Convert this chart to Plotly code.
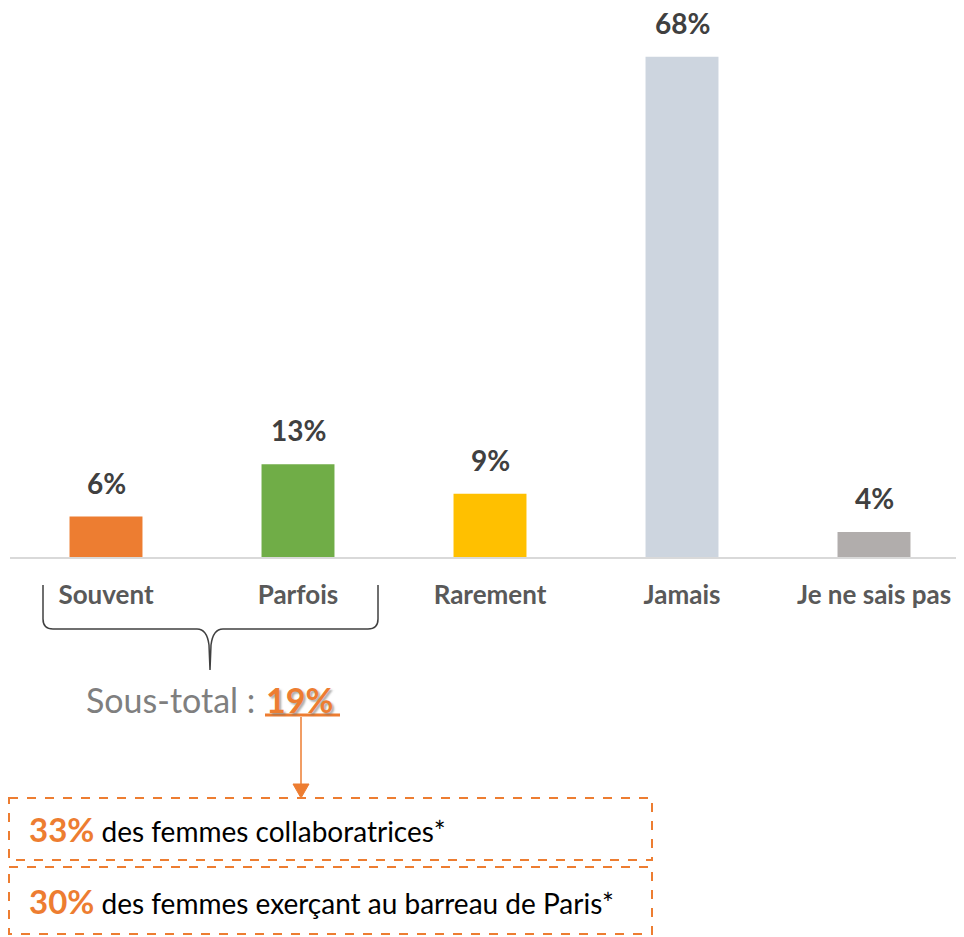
import plotly.graph_objects as go

categories = ["Souvent", "Parfois", "Rarement", "Jamais", "Je ne sais pas"]
values = [5.5, 12.6, 8.6, 68.0, 3.4]
value_labels = ["6%", "13%", "9%", "68%", "4%"]
bar_colors = ["#ed7d31", "#70ad47", "#ffc000", "#cdd5df", "#b1adac"]

subtotal_label = "19%"
box_values = ["33%", "30%"]
box_texts = ["des femmes collaboratrices*", "des femmes exerçant au barreau de Paris*"]

# the page body adds an 8px margin around the figure
OFF = 8
W, H = 964, 937
L, T = 10 - OFF, 42 - OFF
BASE = 557 - OFF  # figure pixel y of the baseline
B = H - BASE
PW, PH = W - L, BASE - T
FONT = "Lato"
ORANGE = "#ed7d31"


def px(x):
    # screen pixel -> paper x
    return (x - OFF - L) / PW


def py(y):
    # screen pixel -> paper y
    return (BASE - (y - OFF)) / PH


fig = go.Figure()
fig.add_trace(go.Bar(
    x=list(range(len(categories))), y=values,
    marker=dict(color=bar_colors, line=dict(width=0)),
    width=0.38, hoverinfo="skip",
))

# value labels above the bars
for i, (v, lab) in enumerate(zip(values, value_labels)):
    fig.add_annotation(x=i, y=v, text="<b>%s</b>" % lab, showarrow=False,
                       yanchor="bottom", yshift=15,
                       font=dict(family=FONT, size=28, color="#404040"))

# brace under Souvent / Parfois
brace = ("M {a},{b} L {a},{c} Q {a},{d} {e},{d} L {f},{d} Q {g},{d} {h},{i} L {m},{j} "
         "M {k},{b} L {k},{c} Q {k},{d} {n},{d} L {o},{d} Q {p},{d} {q},{i} L {m},{j}").format(
    a=px(43), b=py(585), c=py(619), d=py(629), e=px(53), f=px(197), g=px(207),
    h=px(209), i=py(645), j=py(670), k=px(378), m=px(210), n=px(368), o=px(223),
    p=px(213), q=px(211))
fig.add_shape(type="path", path=brace, xref="paper", yref="paper",
              line=dict(color="#404040", width=1.5))

fig.add_annotation(xref="paper", yref="paper", x=px(257), y=py(699), text="Sous-total :",
                   showarrow=False, xanchor="right", yanchor="middle",
                   font=dict(family=FONT, size=34, color="#7f7f7f"))
fig.add_annotation(xref="paper", yref="paper", x=px(264), y=py(699), text="<b>%s</b>" % subtotal_label,
                   showarrow=False, xanchor="left", yanchor="middle",
                   font=dict(family=FONT, size=34, color=ORANGE,
                             shadow="2px 2px 2px rgba(110,110,110,0.55)"))
fig.add_shape(type="line", xref="paper", yref="paper", x0=px(265), x1=px(340),
              y0=py(715), y1=py(715), line=dict(color=ORANGE, width=3))

# arrow down to the boxes
fig.add_shape(type="line", xref="paper", yref="paper", x0=px(301), x1=px(301),
              y0=py(717), y1=py(785), line=dict(color=ORANGE, width=1.5))
fig.add_shape(type="path", xref="paper", yref="paper",
              path="M {0},{1} L {2},{1} L {3},{4} Z".format(px(293), py(784), px(309), px(301), py(798)),
              fillcolor=ORANGE, line=dict(color=ORANGE, width=1))

# dashed boxes
for k, (y0, y1) in enumerate([(798, 860), (867, 934)]):
    fig.add_shape(type="rect", xref="paper", yref="paper", x0=px(9), x1=px(652),
                  y0=py(y0), y1=py(y1), line=dict(color=ORANGE, width=2, dash="dash"))
    fig.add_annotation(xref="paper", yref="paper", x=px(27), y=py((y0 + y1) / 2),
                       text="<span style='font-size:33px;color:%s'><b>%s</b></span> %s"
                            % (ORANGE, box_values[k], box_texts[k]),
                       showarrow=False, xanchor="left", yanchor="middle",
                       font=dict(family=FONT, size=28, color="#000000"))

fig.update_layout(
    width=W, height=H, margin=dict(l=L, r=0, t=T, b=B),
    plot_bgcolor="white", paper_bgcolor="white", showlegend=False,
    xaxis=dict(range=[-0.5, -0.5 + PW / 192], tickvals=list(range(len(categories))),
               ticktext=["<b>%s</b>" % c for c in categories], ticks="",
               ticklabelstandoff=14,
               tickfont=dict(family=FONT, size=26, color="#595959"),
               showline=True, linecolor="#d9d9d9", linewidth=2, showgrid=False, zeroline=False),
    yaxis=dict(range=[0, PH / (500.3 / 68)], visible=False, showgrid=False),
)

fig.write_html("out.html")
